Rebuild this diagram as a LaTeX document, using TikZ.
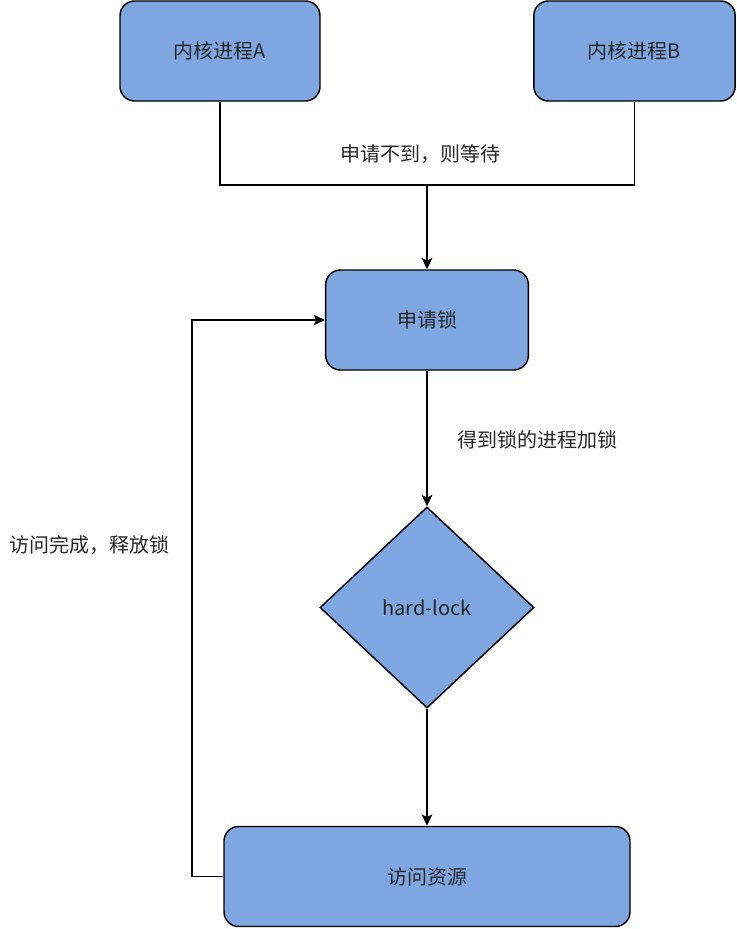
\documentclass[tikz,border=0pt]{standalone}
\usepackage{fontspec}
\setmainfont{Noto Sans CJK SC}
\usetikzlibrary{positioning,shapes.geometric,arrows.meta}
\definecolor{boxblue}{HTML}{7EA6E0}

\begin{document}
\begin{tikzpicture}[x=0.75pt,y=-0.75pt,
        proc/.style={draw=black, fill=boxblue, rounded corners=11pt, line width=1.1pt,
            minimum width=150pt, minimum height=75pt, text=black!85,
            font=\fontsize{15}{18}\selectfont},
        judge/.style={draw=black, fill=boxblue, diamond, inner sep=0pt, line width=1.1pt,
            minimum width=160.5pt, minimum height=150.75pt, text=black!85,
            font=\fontsize{15}{18}\selectfont},
        note/.style={text=black!85, font=\fontsize{15}{18}\selectfont},
        arrow/.style={-{Stealth[length=8.5pt,width=8pt,inset=2pt]}, line width=1.1pt}
    ]
    \useasboundingbox (0,0) rectangle (737,929);

    % boxes
    \node[proc] (procA) at (220,51) {内核进程A};
    \node[proc, minimum width=151pt] (procB) at (634.5,51) {内核进程B};
    \node[proc, minimum width=152pt] (lock) at (427,320) {申请锁};
    \node[judge] (hard) at (427,607.5) {hard-lock};
    \node[proc, minimum width=304.5pt] (res) at (427,876.5) {访问资源};

    % labels
    \node[note] (waitnote) at (420,154) {申请不到，则等待};
    \node[note] (locknote) at (537,440) {得到锁的进程加锁};
    \node[note] (freenote) at (89,545) {访问完成，释放锁};

    % connectors
    \coordinate (merge) at (427,185);
    \coordinate (loopcorner) at (192,876.5);
    \draw[line width=1.1pt] (procA.south) |- (merge) -| (procB.south);
    \draw[arrow] (merge) -- (lock.north);
    \draw[arrow] (lock.south) -- (hard.north);
    \draw[arrow] (hard.south) -- (res.north);
    \draw[arrow] (res.west) -- (loopcorner) |- (lock.west);
\end{tikzpicture}
\end{document}
